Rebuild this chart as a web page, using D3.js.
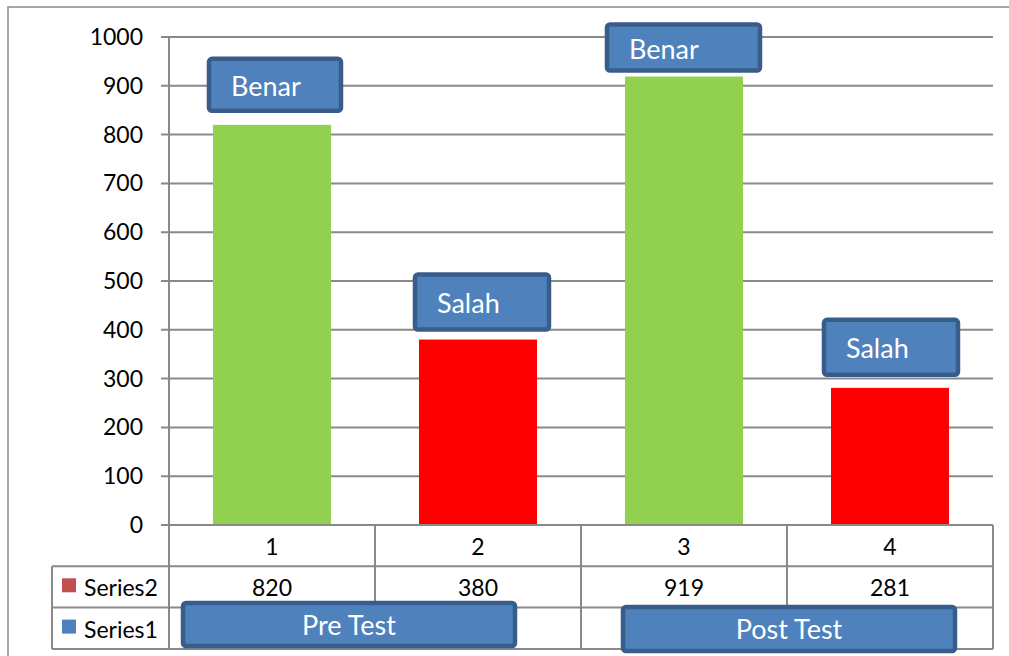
<!DOCTYPE html>
<meta charset="utf-8">
<style>
  body { margin: 0; background: #fff; }
  svg { display: block; font-family: Lato, "Open Sans", sans-serif; }
  .grid line, .table line { stroke: #898989; stroke-width: 2; }
  .frame { stroke: #898989; stroke-width: 1.5; fill: none; }
  .tick-label, .cell { font-size: 23px; fill: #000; }
  .callout rect { fill: #4F81BD; stroke: #385D8A; stroke-width: 4.5; }
  .callout text { fill: #fff; font-size: 27px; }
</style>
<svg width="1009" height="656"></svg>
<script src="https://cdnjs.cloudflare.com/ajax/libs/d3/7.8.5/d3.min.js"></script>
<script>

var categories = ["1", "2", "3", "4"],
    series2 = [820, 380, 919, 281],
    series1 = [null, null, null, null],
    barColors = ["#92D050", "#FF0000", "#92D050", "#FF0000"],
    calloutLabels = ["Benar", "Salah", "Benar", "Salah"],
    groupLabels = ["Pre Test", "Post Test"],
    legendNames = ["Series2", "Series1"],
    legendColors = ["#C0504D", "#4F81BD"];

// layout tweaks for the floating text boxes
var calloutLayout = [
  {dx: -6, w: 136, h: 56, gap: 12},
  {dx: -6, w: 138, h: 59, gap: 8},
  {dx: -20, w: 157, h: 50, gap: 4},
  {dx: -9, w: 138, h: 59, gap: 11}
];
var groupLayout = [
  {x0: 0, x1: 1, dx: -26, y: 601, w: 336, h: 47},
  {x0: 2, x1: 3, dx: 2, y: 605, w: 336, h: 48}
];

var svg = d3.select("svg");

var plotL = 169, plotR = 993, plotT = 37, plotB = 525,
    rowH = 41.3, tableLeft = 52;

var x = d3.scaleBand().domain(categories).range([plotL, plotR])
    .paddingInner(0.427).paddingOuter(0.2135);
var cat = d3.scaleBand().domain(categories).range([plotL, plotR]);
var y = d3.scaleLinear().domain([0, 1000]).range([plotB, plotT]);

// outer chart frame
svg.append("path").attr("class", "frame")
    .attr("d", "M8,660V7H1012");

// gridlines + y ticks
var grid = svg.append("g").attr("class", "grid");
grid.selectAll("line").data(y.ticks(10).filter(function(d) { return d > 0; }))
  .enter().append("line")
    .attr("x1", plotL - 8).attr("x2", plotR)
    .attr("y1", function(d) { return y(d); })
    .attr("y2", function(d) { return y(d); });
grid.append("line")
    .attr("x1", plotL).attr("x2", plotL)
    .attr("y1", plotT).attr("y2", plotB);

svg.append("g").selectAll("text").data(y.ticks(10))
  .enter().append("text")
    .attr("class", "tick-label")
    .attr("text-anchor", "end")
    .attr("x", 143)
    .attr("y", function(d) { return y(d) + 8; })
    .text(function(d) { return d; });

// bars
svg.append("g").selectAll("rect").data(series2)
  .enter().append("rect")
    .attr("x", function(d, i) { return x(categories[i]); })
    .attr("width", x.bandwidth())
    .attr("y", function(d) { return y(d); })
    .attr("height", function(d) { return y(0) - y(d); })
    .attr("fill", function(d, i) { return barColors[i]; });

// data table
var table = svg.append("g").attr("class", "table");
var r1 = plotB + rowH, r2 = plotB + 2 * rowH, r3 = plotB + 3 * rowH;
table.append("line").attr("x1", plotL - 8).attr("x2", plotR).attr("y1", plotB).attr("y2", plotB);
[r1, r2, r3].forEach(function(ry) {
  table.append("line").attr("x1", tableLeft).attr("x2", plotR).attr("y1", ry).attr("y2", ry);
});
table.append("line").attr("x1", tableLeft).attr("x2", tableLeft).attr("y1", r1).attr("y2", r3);
table.selectAll("line.v").data(categories.concat(["end"]))
  .enter().append("line").attr("class", "v")
    .attr("x1", function(d, i) { return plotL + i * cat.step(); })
    .attr("x2", function(d, i) { return plotL + i * cat.step(); })
    .attr("y1", plotB).attr("y2", r3);

svg.append("g").selectAll("text").data(categories)
  .enter().append("text").attr("class", "cell")
    .attr("text-anchor", "middle")
    .attr("x", function(d) { return cat(d) + cat.bandwidth() / 2; })
    .attr("y", plotB + 30)
    .text(function(d) { return d; });

svg.append("g").selectAll("text").data(series2)
  .enter().append("text").attr("class", "cell")
    .attr("text-anchor", "middle")
    .attr("x", function(d, i) { return cat(categories[i]) + cat.bandwidth() / 2; })
    .attr("y", r1 + 30)
    .text(function(d) { return d; });

var leg = svg.append("g").selectAll("g").data(legendNames)
  .enter().append("g")
    .attr("transform", function(d, i) { return "translate(62," + (r1 + i * rowH) + ")"; });
leg.append("rect").attr("x", 0).attr("y", 12).attr("width", 14).attr("height", 14)
    .attr("fill", function(d, i) { return legendColors[i]; });
leg.append("text").attr("class", "cell").attr("x", 22).attr("y", 30)
    .text(function(d) { return d; });

// callout boxes above the bars
var callouts = svg.append("g").selectAll("g").data(calloutLabels)
  .enter().append("g").attr("class", "callout")
    .attr("transform", function(d, i) {
      var L = calloutLayout[i];
      return "translate(" + (x(categories[i]) + L.dx) + "," + (y(series2[i]) - L.gap - L.h) + ")";
    });
callouts.append("rect")
    .attr("x", 2).attr("y", 2).attr("rx", 3)
    .attr("width", function(d, i) { return calloutLayout[i].w - 4; })
    .attr("height", function(d, i) { return calloutLayout[i].h - 4; });
callouts.append("text")
    .attr("x", 24)
    .attr("y", function(d, i) { return calloutLayout[i].h / 2 + 11; })
    .text(function(d) { return d; });

// group labels in the table
var groups = svg.append("g").selectAll("g").data(groupLabels)
  .enter().append("g").attr("class", "callout")
    .attr("transform", function(d, i) {
      var G = groupLayout[i];
      var cx = (cat(categories[G.x0]) + cat(categories[G.x1]) + cat.bandwidth()) / 2 + G.dx;
      return "translate(" + (cx - G.w / 2) + "," + G.y + ")";
    });
groups.append("rect")
    .attr("x", 2).attr("y", 2).attr("rx", 3)
    .attr("width", function(d, i) { return groupLayout[i].w - 4; })
    .attr("height", function(d, i) { return groupLayout[i].h - 4; });
groups.append("text")
    .attr("text-anchor", "middle")
    .attr("x", function(d, i) { return groupLayout[i].w / 2; })
    .attr("y", function(d, i) { return groupLayout[i].h / 2 + 10; })
    .text(function(d) { return d; });

</script>
